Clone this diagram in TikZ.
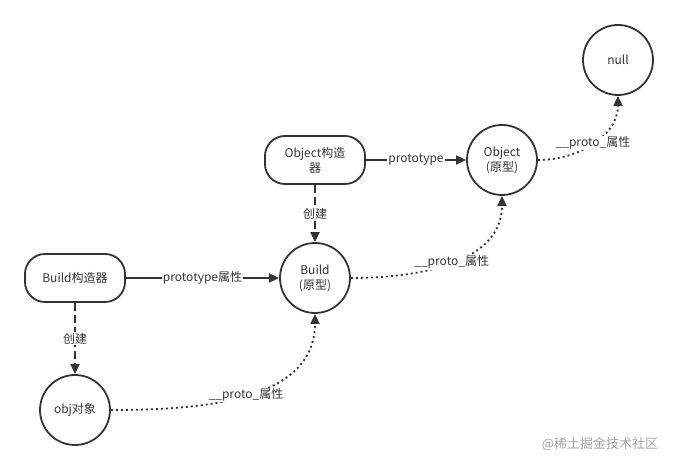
\documentclass[tikz,border=0pt]{standalone}
\usepackage{fontspec}
\setmainfont{Noto Sans CJK SC}
\usepackage{xcolor}
\usepackage{tikz}
\usetikzlibrary{arrows.meta}
\definecolor{trazo}{HTML}{333333}
\definecolor{marca}{HTML}{A3A3A3}

\begin{document}
\begin{tikzpicture}[x=1pt, y=1pt,
    caja/.style={draw=trazo, line width=1.8pt, rounded corners=20pt, minimum width=100pt, minimum height=48pt, align=center, text=trazo, font=\fontsize{12}{15}\selectfont},
    bola/.style={draw=trazo, line width=1.8pt, circle, minimum size=70pt, inner sep=0pt, align=center, text=trazo, font=\fontsize{12}{15}\selectfont},
    rotulo/.style={fill=white, inner sep=1pt, text=trazo, font=\fontsize{12}{14}\selectfont},
    flecha/.style={draw=trazo, line width=1.8pt, -{Triangle[length=10pt, width=9pt]}},
    rayada/.style={flecha, dash pattern=on 8pt off 4pt},
    punteada/.style={flecha, dash pattern=on 2pt off 3pt}]
    \useasboundingbox (0,0) rectangle (678,470);
    \node[caja] (buildctor) at (75,192) {Build构造器};
    \node[bola] (obj) at (75,60) {obj对象};
    \node[bola] (buildproto) at (315,192) {Build\\(原型)};
    \node[caja] (objctor) at (315,310) {Object构造\\器};
    \node[bola] (objproto) at (502,310) {Object\\(原型)};
    \node[bola] (nulo) at (618,410) {null};
    \draw[flecha] (buildctor) -- node[rotulo] {prototype属性} (buildproto);
    \draw[rayada] (buildctor) -- node[rotulo] {创建} (obj);
    \draw[flecha] (objctor) -- node[rotulo] {prototype} (objproto);
    \draw[rayada] (objctor) -- node[rotulo] {创建} (buildproto);
    \draw[punteada] (obj.east) to[out=0, in=-90] node[rotulo] {\_\_proto\_属性} (buildproto.south);
    \draw[punteada] (buildproto.east) to[out=0, in=-90] node[rotulo] {\_\_proto\_属性} (objproto.south);
    \draw[punteada] (objproto.east) to[out=0, in=-90] node[rotulo] {\_\_proto\_属性} (nulo.south);
    \node[text=marca, font=\fontsize{13}{15}\selectfont] (firma) at (600,26) {@稀土掘金技术社区};
\end{tikzpicture}
\end{document}
